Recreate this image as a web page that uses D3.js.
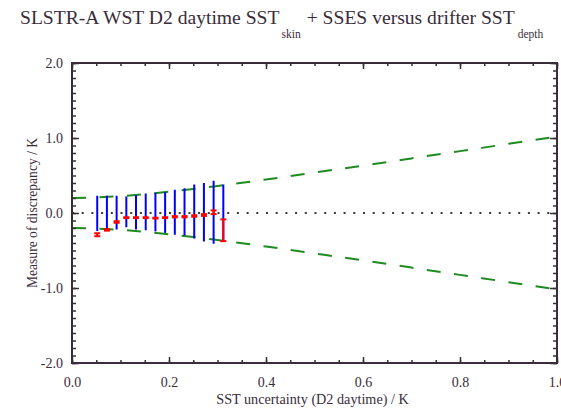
<!DOCTYPE html>
<html>
<head>
<meta charset="utf-8">
<script src="https://cdn.jsdelivr.net/npm/d3@7"></script>
<style>
  html, body { margin: 0; padding: 0; background: #fff; }
  svg { display: block; }
  text { font-family: "Liberation Serif", "DejaVu Serif", serif; fill: #3a2c3a; }
</style>
</head>
<body>
<svg id="chart" width="561" height="412"></svg>
<script>
// Bin centres of SST uncertainty (K)
const uncertainty = [0.052, 0.072, 0.092, 0.112, 0.132, 0.152, 0.172, 0.192, 0.212, 0.232, 0.252, 0.272, 0.292, 0.312];
// Robust spread of discrepancy per bin (blue bars), upper and lower ends (K)
const spreadHigh = [0.23, 0.23, 0.23, 0.22, 0.24, 0.26, 0.27, 0.28, 0.31, 0.33, 0.38, 0.40, 0.43, 0.38];
const spreadLow  = [-0.24, -0.235, -0.22, -0.19, -0.22, -0.23, -0.245, -0.265, -0.29, -0.30, -0.34, -0.38, -0.41, -0.37];
// Median discrepancy per bin and its uncertainty (red)
const medianDisc = [-0.29, -0.225, -0.12, -0.062, -0.062, -0.062, -0.068, -0.062, -0.05, -0.05, -0.04, -0.027, 0.01, -0.23];
const medianErr  = [0.02, 0.01, 0.01, 0.006, 0.006, 0.006, 0.006, 0.006, 0.008, 0.008, 0.01, 0.012, 0.025, 0.145];
// Expected discrepancy envelope (green dashed), magnitude vs uncertainty
const envelopeX = [0.0, 0.1, 0.2, 0.3, 0.4, 0.5, 0.6, 0.7, 0.8, 0.9, 1.0];
const envelopeY = [0.20, 0.224, 0.283, 0.361, 0.447, 0.539, 0.632, 0.728, 0.825, 0.922, 1.02];
// Axis ticks
const xMajorTicks = [0.0, 0.2, 0.4, 0.6, 0.8, 1.0];
const xMinorTicks = d3.range(0, 1.0001, 0.05);
const yMajorTicks = [-2.0, -1.0, 0.0, 1.0, 2.0];
const yMinorTicks = d3.range(-2.0, 2.0001, 0.1);

const svg = d3.select("#chart");
const plotL = 72, plotR = 557, plotT = 63, plotB = 363;
const x = d3.scaleLinear().domain([0, 1]).range([plotL, plotR]);
const y = d3.scaleLinear().domain([-2, 2]).range([plotB, plotT]);
const ink = "#3a2c3a";
const fmt = d => d.toFixed(1);

// Title with subscripts
const title = svg.append("text").attr("x", 20).attr("y", 24).style("font-size", "19.6px");
title.append("tspan").text("SLSTR-A WST D2 daytime SST");
title.append("tspan").attr("dx", 2).attr("dy", 14).style("font-size", "11.5px").text("skin");
title.append("tspan").attr("dx", 6).attr("dy", -14).text("+ SSES versus drifter SST");
title.append("tspan").attr("dx", 3).attr("dy", 14).style("font-size", "11.5px").text("depth");

// Zero reference line (dotted)
svg.append("line")
  .attr("x1", x(0)).attr("x2", x(1)).attr("y1", y(0)).attr("y2", y(0))
  .attr("stroke", "#3a3a3a").attr("stroke-width", 2).attr("stroke-dasharray", "2 7.7");

// Expected envelope, upper and lower
const envLine = d3.line().curve(d3.curveMonotoneX);
[1, -1].forEach(sign => {
  svg.append("path")
    .attr("d", envLine(envelopeX.map((v, i) => [x(v), y(sign * envelopeY[i])])))
    .attr("fill", "none").attr("stroke", "#1f8a1f").attr("stroke-width", 2)
    .attr("stroke-dasharray", "14 13.5");
});

// Blue spread bars
svg.append("g").selectAll("line").data(uncertainty).join("line")
  .attr("x1", d => x(d)).attr("x2", d => x(d))
  .attr("y1", (d, i) => y(spreadHigh[i])).attr("y2", (d, i) => y(spreadLow[i]))
  .attr("stroke", "#0000ff").attr("stroke-width", 2);

// Red medians with error bars
const red = svg.append("g").attr("stroke", "#ff0000").attr("stroke-width", 2);
uncertainty.forEach((u, i) => {
  const cx = x(u);
  const hi = y(medianDisc[i] + medianErr[i]);
  const lo = y(medianDisc[i] - medianErr[i]);
  red.append("line").attr("x1", cx).attr("x2", cx).attr("y1", hi).attr("y2", lo);
  red.append("line").attr("x1", cx - 3).attr("x2", cx + 3).attr("y1", hi).attr("y2", hi);
  red.append("line").attr("x1", cx - 3).attr("x2", cx + 3).attr("y1", lo).attr("y2", lo);
});

// Axes: ticks point inward on all four sides
function styleAxis(g) {
  g.select(".domain").remove();
  g.selectAll(".tick line").attr("stroke", ink).attr("stroke-width", 1.5);
  g.selectAll("text").style("font-size", "14px").attr("fill", ink)
    .style("font-family", '"Liberation Serif", "DejaVu Serif", serif');
}
svg.append("g").attr("transform", `translate(0,${plotB})`)
  .call(d3.axisBottom(x).tickValues(xMinorTicks).tickSize(-3).tickFormat("")).call(styleAxis);
svg.append("g").attr("transform", `translate(0,${plotB})`)
  .call(d3.axisBottom(x).tickValues(xMajorTicks).tickSize(-6).tickPadding(14).tickFormat(fmt)).call(styleAxis);
svg.append("g").attr("transform", `translate(0,${plotT})`)
  .call(d3.axisTop(x).tickValues(xMinorTicks).tickSize(-3).tickFormat("")).call(styleAxis);
svg.append("g").attr("transform", `translate(0,${plotT})`)
  .call(d3.axisTop(x).tickValues(xMajorTicks).tickSize(-6).tickFormat("")).call(styleAxis);
svg.append("g").attr("transform", `translate(${plotL},0)`)
  .call(d3.axisLeft(y).tickValues(yMinorTicks).tickSize(-4).tickFormat("")).call(styleAxis);
svg.append("g").attr("transform", `translate(${plotL},0)`)
  .call(d3.axisLeft(y).tickValues(yMajorTicks).tickSize(-7).tickPadding(9).tickFormat(fmt)).call(styleAxis);
svg.append("g").attr("transform", `translate(${plotR},0)`)
  .call(d3.axisRight(y).tickValues(yMinorTicks).tickSize(-4).tickFormat("")).call(styleAxis);
svg.append("g").attr("transform", `translate(${plotR},0)`)
  .call(d3.axisRight(y).tickValues(yMajorTicks).tickSize(-7).tickFormat("")).call(styleAxis);

// Plot frame
svg.append("rect")
  .attr("x", plotL).attr("y", plotT).attr("width", plotR - plotL).attr("height", plotB - plotT)
  .attr("fill", "none").attr("stroke", ink).attr("stroke-width", 2);

// Axis titles
svg.append("text").attr("x", (plotL + plotR) / 2 - 2).attr("y", 404)
  .attr("text-anchor", "middle").style("font-size", "14.2px")
  .text("SST uncertainty (D2 daytime) / K");
svg.append("text").attr("transform", `translate(37,${y(0)}) rotate(-90)`)
  .attr("text-anchor", "middle").style("font-size", "13.6px")
  .text("Measure of discrepancy / K");
</script>
</body>
</html>
